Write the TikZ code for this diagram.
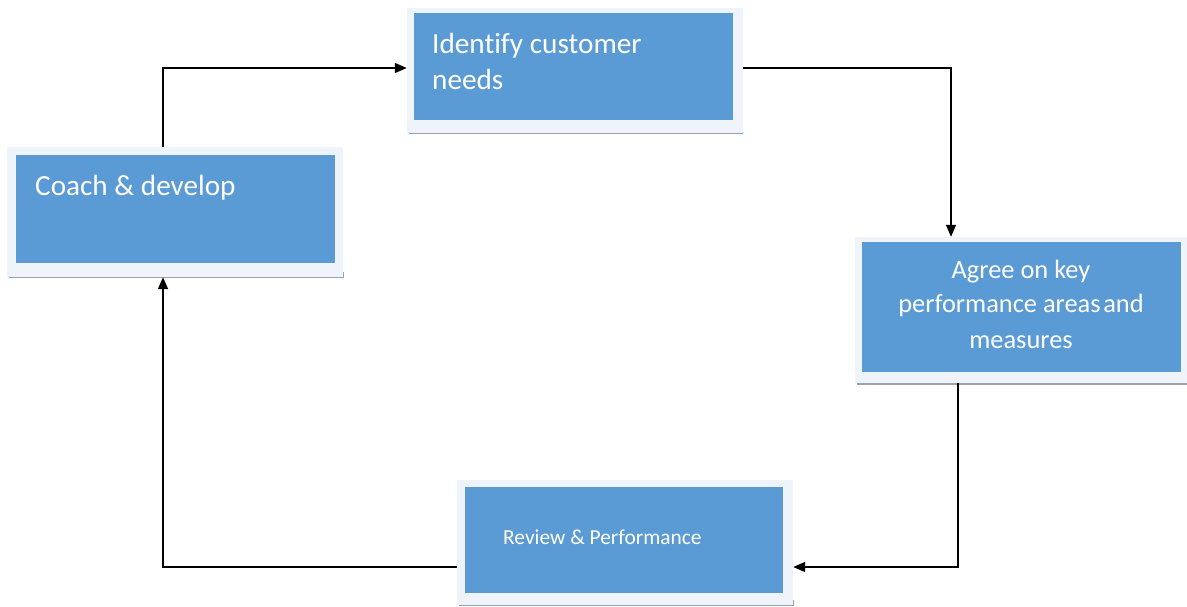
\documentclass[tikz,border=0pt]{standalone}
\usepackage{fontspec}
\setmainfont[RawFeature=-liga]{Carlito}
\usetikzlibrary{arrows.meta}
\definecolor{boxblue}{HTML}{5B9BD5}
\definecolor{framecol}{HTML}{EEF4FA}
\definecolor{shadowcol}{HTML}{9AA3AE}
\tikzset{
  frame/.style={draw=none, fill=framecol, inner sep=0pt, minimum width=#1},
  inner/.style={draw=none, fill=boxblue, inner sep=0pt},
  bigtxt/.style={text=white, inner sep=0pt, font=\fontsize{29.2}{35}\selectfont},
  midtxt/.style={text=white, inner sep=0pt, font=\fontsize{26.4}{35}\selectfont},
  smalltxt/.style={text=white, inner sep=0pt, font=\fontsize{21.4}{25}\selectfont},
  conn/.style={line width=1.6pt, -{Triangle[length=12pt,width=10pt]}},
}
\begin{document}
\begin{tikzpicture}[x=1pt,y=-1pt]
\useasboundingbox (0,0) rectangle (1187,606);
% shadows
\fill[shadowcol] (409,128) rectangle (743,134);
\fill[shadowcol] (9,272) rectangle (344,278);
\fill[shadowcol] (857,378) rectangle (1187,385);
\fill[shadowcol] (459,600) rectangle (794,606);
% frames
\node[frame=336pt, minimum height=125pt] (id) at (575,70.5) {};
\node[frame=336pt, minimum height=130pt] (coach) at (175,212) {};
\node[frame=332pt, minimum height=146pt] (agree) at (1021,310) {};
\node[frame=336pt, minimum height=125pt] (review) at (625,542.5) {};
% inner blue
\node[inner, minimum width=319pt, minimum height=107pt] (idin) at (573.5,66.5) {};
\node[inner, minimum width=319pt, minimum height=108pt] (coachin) at (175.5,209) {};
\node[inner, minimum width=319pt, minimum height=130pt] (agreein) at (1021.5,307) {};
\node[inner, minimum width=318pt, minimum height=106pt] (reviewin) at (624,540) {};
% texts
\node[bigtxt, anchor=base west] (t1) at (432,53) {Identify customer};
\node[bigtxt, anchor=base west] (t2) at (432,89) {needs};
\node[bigtxt, anchor=base west] (t3) at (35,195) {Coach \& develop};
\node[midtxt, anchor=base] (t4) at (1021,278) {Agree on key};
\node[midtxt, anchor=base] (t5) at (1021,312) {performance areas\hspace{0.1em}and};
\node[midtxt, anchor=base] (t6) at (1021,348) {measures};
\node[smalltxt, anchor=base west] (t7) at (503,544) {Review \& Performance};
% connectors
\draw[conn] ([xshift=-12pt]coach.north) |- ([yshift=2.5pt]id.west);
\draw[conn] ([yshift=2.5pt]id.east) -| ([xshift=-70pt]agree.north);
\draw[conn] ([xshift=-63pt]agree.south) |- ([yshift=-24.5pt]review.east);
\draw[conn] ([yshift=-24.5pt]review.west) -| ([xshift=-12pt]coach.south);
\end{tikzpicture}
\end{document}
